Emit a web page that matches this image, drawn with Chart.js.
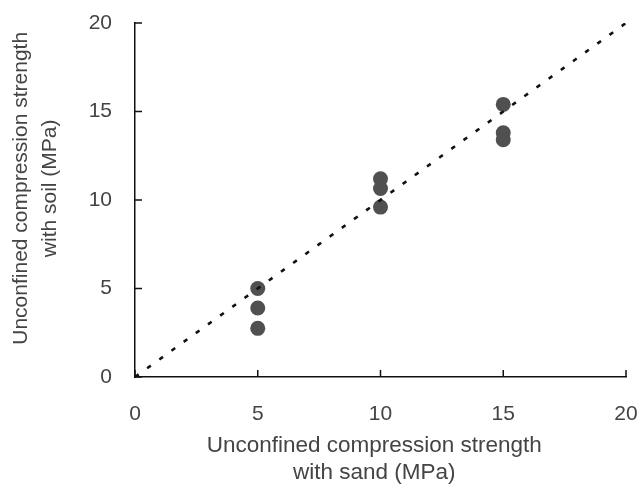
<!DOCTYPE html>
<html>
<head>
<meta charset="utf-8">
<script src="https://cdn.jsdelivr.net/npm/chart.js@4/dist/chart.umd.min.js"></script>
<style>
  html, body { margin: 0; padding: 0; background: #ffffff; }
  #wrap { width: 640px; height: 489px; }
</style>
</head>
<body>
<div id="wrap"><canvas id="c" width="640" height="489"></canvas></div>
<script>
// ---- data ----
const sandStrength = [5, 5, 5, 10, 10, 10, 15, 15, 15];
const soilStrength = [5.0, 3.9, 2.75, 11.2, 10.65, 9.6, 15.4, 13.8, 13.4];
const equalityLineX = [0, 20];
const equalityLineY = [0, 20];
const tickValues = [0, 5, 10, 15, 20];
const xTitle = ['Unconfined compression strength', 'with sand (MPa)'];
const yTitle = ['Unconfined compression strength', 'with soil (MPa)'];

const scatterPoints = sandStrength.map((x, i) => ({ x: x, y: soilStrength[i] }));
const linePoints = equalityLineX.map((x, i) => ({ x: x, y: equalityLineY[i] }));

const TEXT = '#444444';
const FONT = 'Liberation Sans';

// inward tick marks, positioned through the scales
const innerTicks = {
  id: 'innerTicks',
  afterDraw(chart) {
    const ctx = chart.ctx;
    const xs = chart.scales.x, ys = chart.scales.y;
    const len = 7;
    ctx.save();
    ctx.strokeStyle = '#111111';
    ctx.lineWidth = 1.5;
    ctx.beginPath();
    tickValues.forEach(v => {
      const px = xs.getPixelForValue(v);
      ctx.moveTo(px, ys.bottom);
      ctx.lineTo(px, ys.bottom - len);
      const py = ys.getPixelForValue(v);
      ctx.moveTo(xs.left, py);
      ctx.lineTo(xs.left + len, py);
    });
    ctx.stroke();
    ctx.restore();
  }
};

// the reference's axis titles sit slightly off-centre: pad with spaces
const xTitleText = xTitle.map(t => t + '  ');
const yTitleText = yTitle.map(t => '    ' + t);

new Chart(document.getElementById('c'), {
  type: 'scatter',
  data: {
    datasets: [
      {
        type: 'line',
        label: '1:1',
        data: linePoints,
        borderColor: '#111111',
        borderWidth: 2.6,
        borderDash: [4.5, 10.5],
        pointRadius: 0,
        fill: false,
        order: 0
      },
      {
        label: 'Strength',
        data: scatterPoints,
        backgroundColor: '#505050',
        borderColor: '#505050',
        borderWidth: 0,
        pointRadius: 7.5,
        order: 1
      }
    ]
  },
  options: {
    responsive: false,
    animation: false,
    devicePixelRatio: 1,
    layout: { padding: { top: 23, right: 14, bottom: 0, left: 0 } },
    plugins: {
      legend: { display: false },
      tooltip: { enabled: false }
    },
    scales: {
      x: {
        type: 'linear',
        min: 0, max: 20,
        grid: { display: false },
        border: { display: true, color: '#111111', width: 1.5 },
        afterBuildTicks: s => { s.ticks = tickValues.map(v => ({ value: v })); },
        ticks: { color: TEXT, font: { family: FONT, size: 21 }, padding: 17, maxRotation: 0 },
        title: {
          display: true,
          text: xTitleText,
          color: TEXT,
          font: { family: FONT, size: 22.5, lineHeight: 1.22 },
          padding: { top: 4, bottom: 2 }
        },
        afterFit: s => { s.height = 112; s.paddingLeft = 0; s.paddingRight = 0; }
      },
      y: {
        type: 'linear',
        min: 0, max: 20,
        grid: { display: false },
        border: { display: true, color: '#111111', width: 1.5 },
        afterBuildTicks: s => { s.ticks = tickValues.map(v => ({ value: v })); },
        ticks: { color: TEXT, font: { family: FONT, size: 21 }, padding: 15 },
        title: {
          display: true,
          text: yTitleText,
          color: TEXT,
          font: { family: FONT, size: 21, lineHeight: 1.38 },
          padding: { top: 7, bottom: 4 }
        },
        afterFit: s => { s.width = 135; s.paddingTop = 0; s.paddingBottom = 0; }
      }
    }
  },
  plugins: [innerTicks]
});
</script>
</body>
</html>
